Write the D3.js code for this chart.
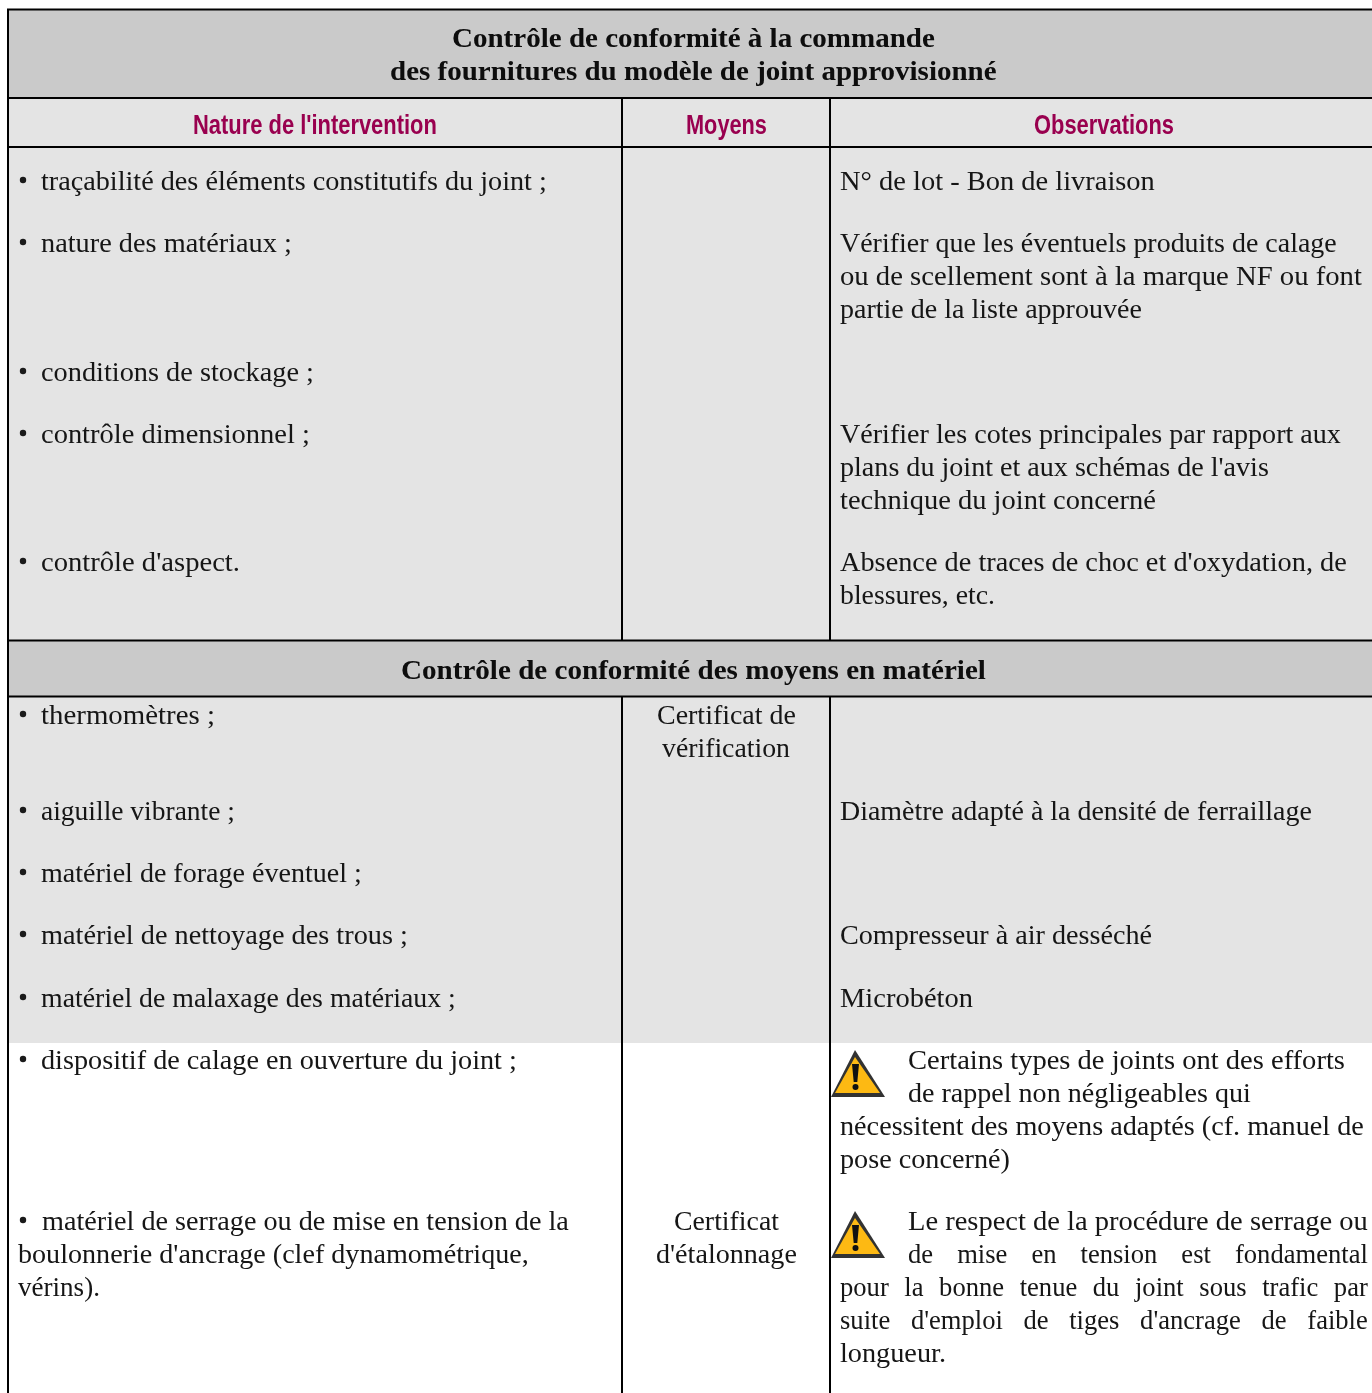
<!DOCTYPE html>
<html lang="fr"><head><meta charset="utf-8">
<script src="https://cdnjs.cloudflare.com/ajax/libs/d3/7.8.5/d3.min.js"></script>
<style>html,body{margin:0;padding:0;background:#fff}svg{display:block}</style>
</head><body><div id="c"></div>
<script>
const W = 1372, H = 1393;
// [text, left edge, right edge, baseline]
const titleLines = [
  ["Contrôle de conformité à la commande",452,935,46.5],
  ["des fournitures du modèle de joint approvisionné",390,997,79.5],
  ["Contrôle de conformité des moyens en matériel",401,986,678.5]
];
const columnHeads = [
  ["Nature de l'intervention",193,437,133.5],
  ["Moyens",686,767,133.5],
  ["Observations",1034,1174,133.5]
];
const natureLines = [
  ["traçabilité des éléments constitutifs du joint ;",41,547,190,1],
  ["nature des matériaux ;",41,292,252,1],
  ["conditions de stockage ;",41,314,381,1],
  ["contrôle dimensionnel ;",41,310,443,1],
  ["contrôle d'aspect.",41,240,571,1],
  ["thermomètres ;",41,215,724,1],
  ["aiguille vibrante ;",41,235,820,1],
  ["matériel de forage éventuel ;",41,362,882,1],
  ["matériel de nettoyage des trous ;",41,408,944,1],
  ["matériel de malaxage des matériaux ;",41,456,1007,1],
  ["dispositif de calage en ouverture du joint ;",41,517,1069,1],
  ["matériel de serrage ou de mise en tension de la",42,569,1230,1],
  ["boulonnerie d'ancrage (clef dynamométrique,",18,529,1263,0],
  ["vérins).",18,100,1296,0]
];
const moyensLines = [
  ["Certificat de",657,796,724],
  ["vérification",662,790,757],
  ["Certificat",674,779,1230],
  ["d'étalonnage",656,797,1263]
];
const observationLines = [
  ["N° de lot - Bon de livraison",840,1155,190],
  ["Vérifier que les éventuels produits de calage",840,1337,252],
  ["ou de scellement sont à la marque NF ou font",840,1362,285],
  ["partie de la liste approuvée",840,1142,318],
  ["Vérifier les cotes principales par rapport aux",840,1341,443],
  ["plans du joint et aux schémas de l'avis",840,1269,476],
  ["technique du joint concerné",840,1156,509],
  ["Absence de traces de choc et d'oxydation, de",840,1347,571],
  ["blessures, etc.",840,995,604],
  ["Diamètre adapté à la densité de ferraillage",840,1312,820],
  ["Compresseur à air desséché",840,1152,944],
  ["Microbéton",840,973,1007],
  ["Certains types de joints ont des efforts",908,1345,1069],
  ["de rappel non négligeables qui",908,1251,1102],
  ["nécessitent des moyens adaptés (cf. manuel de",840,1364,1135],
  ["pose concerné)",840,1010,1168],
  ["Le respect de la procédure de serrage ou",908,1368,1230],
  ["de mise en tension est fondamental",908,1368,1263,1],
  ["pour la bonne tenue du joint sous trafic par",840,1368,1296,1],
  ["suite d'emploi de tiges d'ancrage de faible",840,1368,1329,1],
  ["longueur.",840,946,1362]
];
// bands: [top, bottom, fill]
const bands = [[10,98,"#cacaca"],[98,1043,"#e4e4e4"],[641,696,"#cacaca"]];
const hRules = [[98,2],[147,2],[640.5,2],[696.5,2]];
const vRules = [[622,98,640],[622,696,1393],[830,98,640],[830,696,1393]];
const warningTops = [1050,1211];

const x = d3.scaleIdentity(), y = d3.scaleIdentity();
const svg = d3.select("#c").append("svg").attr("width",W).attr("height",H);
const defs = svg.append("defs");
defs.append("filter").attr("id","soft").append("feGaussianBlur").attr("stdDeviation",0.7);
defs.append("filter").attr("id","txt").append("feGaussianBlur").attr("stdDeviation",0.2);

svg.selectAll(".band").data(bands).join("rect")
  .attr("x",8).attr("width",W-8).attr("y",d=>y(d[0])).attr("height",d=>y(d[1])-y(d[0])).attr("fill",d=>d[2]);
svg.selectAll(".h").data(hRules).join("line")
  .attr("x1",8).attr("x2",W).attr("y1",d=>y(d[0])).attr("y2",d=>y(d[0])).attr("stroke","#000").attr("stroke-width",d=>d[1]);
svg.append("line").attr("x1",7).attr("x2",W).attr("y1",9.5).attr("y2",9.5).attr("stroke","#000").attr("stroke-width",2);
svg.append("line").attr("x1",8).attr("x2",8).attr("y1",9).attr("y2",H).attr("stroke","#000").attr("stroke-width",2);
svg.selectAll(".v").data(vRules).join("line")
  .attr("x1",d=>x(d[0])).attr("x2",d=>x(d[0])).attr("y1",d=>y(d[1])).attr("y2",d=>y(d[2])).attr("stroke","#000").attr("stroke-width",2);

function put(cls,rows,font,size,weight,fill){
  return svg.append("g").attr("class",cls).attr("filter","url(#txt)").selectAll("text").data(rows).join("text")
    .attr("font-family",font).attr("font-size",size).attr("font-weight",weight).attr("fill",fill)
    .text(d=>d[0])
    .each(function(d){
      const target = x(d[2])-x(d[1]);
      let w = this.getComputedTextLength();
      // justified lines: widen the word gaps, keep the same glyph condensing as the other lines
      if (d[4] && cls==="obs") {
        const s = 0.95, n = d[0].split(" ").length-1;
        const extra = Math.max(0,(target/s - w)/n);
        d3.select(this).attr("word-spacing",extra);
        w = this.getComputedTextLength();
      }
      d3.select(this).attr("transform",`translate(${x(d[1])},${y(d[3])}) scale(${target/w},1)`);
    });
}
const serif = "'Liberation Serif','Times New Roman',serif";
put("titles",titleLines,serif,28,"bold","#0a0a0a");
put("heads",columnHeads,"'Liberation Sans Narrow','Liberation Sans',Arial,sans-serif",27,"bold","#99004f");
put("nature",natureLines,serif,28,"normal","#141414");
put("moyens",moyensLines,serif,28,"normal","#141414");
put("obs",observationLines,serif,28,"normal","#141414");
// bullets
svg.append("g").selectAll("circle").data(natureLines.filter(d=>d[4])).join("circle")
  .attr("cx",23).attr("cy",d=>y(d[3])-10).attr("r",3.2).attr("fill","#1a1a1a");

// warning signs
const g = svg.selectAll(".warn").data(warningTops).join("g").attr("transform",d=>`translate(0,${y(d)})`);
g.append("path").attr("d","M855 0L885 47H831Z").attr("fill","#333").attr("filter","url(#soft)");
g.append("path").attr("d","M855 7L880 43H835Z").attr("fill","#fdb913");
g.append("path").attr("d","M852 14H859L857.3 32H853.7Z").attr("fill","#111");
g.append("circle").attr("cx",855.5).attr("cy",37).attr("r",3).attr("fill","#111");
</script></body></html>
